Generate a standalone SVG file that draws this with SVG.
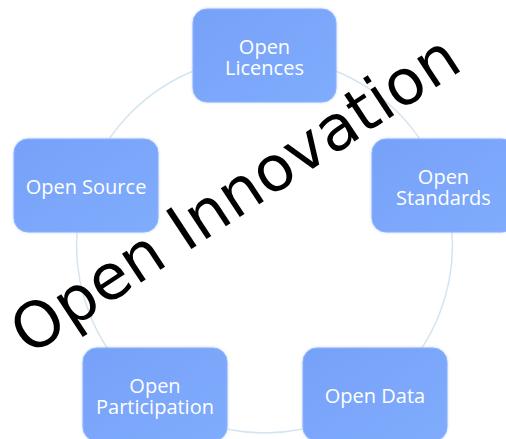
<svg xmlns="http://www.w3.org/2000/svg" width="506" height="439" viewBox="0 0 506 439">
  <defs>
    <linearGradient id="boxFill" x1="0" y1="0" x2="1" y2="1">
      <stop offset="0" stop-color="#76a1f8"/>
      <stop offset="1" stop-color="#80acfd"/>
    </linearGradient>
    <filter id="glow" x="-10%" y="-10%" width="120%" height="120%">
      <feGaussianBlur in="SourceAlpha" stdDeviation="1.5" result="b"/>
      <feFlood flood-color="#9dbcf5" flood-opacity="0.6"/>
      <feComposite in2="b" operator="in" result="s"/>
      <feMerge>
        <feMergeNode in="s"/>
        <feMergeNode in="SourceGraphic"/>
      </feMerge>
    </filter>
    <style>
      .box { fill: url(#boxFill); stroke: #8db1fb; stroke-width: 1; filter: url(#glow); }
      .lbl { fill: #ffffff; font-family: "Open Sans", "DejaVu Sans", sans-serif; font-size: 20px; text-anchor: middle; }
      .ring { fill: none; stroke: #d3e5f0; stroke-width: 1.5; }
      .title { fill: #000000; font-family: "DejaVu Sans", "Liberation Sans", sans-serif; font-size: 63px; }
    </style>
  </defs>
  <rect width="506" height="439" fill="#ffffff"/>

  <g id="connectors">
    <circle class="ring" cx="264.5" cy="245" r="188"/>
  </g>

  <g id="node-open-licences">
    <rect class="box" x="193" y="9" width="143" height="93" rx="14"/>
    <text class="lbl"><tspan x="264.5" y="53.5">Open</tspan><tspan x="264.5" y="74.5">Licences</tspan></text>
  </g>

  <g id="node-open-source">
    <rect class="box" x="14" y="139" width="144" height="93" rx="14"/>
    <text class="lbl" x="86" y="194">Open Source</text>
  </g>

  <g id="node-open-standards">
    <rect class="box" x="372" y="139" width="144" height="93" rx="14"/>
    <text class="lbl"><tspan x="443.5" y="183.5">Open</tspan><tspan x="443.5" y="204.5">Standards</tspan></text>
  </g>

  <g id="node-open-participation">
    <rect class="box" x="83" y="348" width="144" height="93" rx="14"/>
    <text class="lbl"><tspan x="155" y="392.5">Open</tspan><tspan x="155" y="413.5">Participation</tspan></text>
  </g>

  <g id="node-open-data">
    <rect class="box" x="303" y="348" width="144" height="93" rx="14"/>
    <text class="lbl" x="375" y="403">Open Data</text>
  </g>

  <g id="title">
    <text class="title" x="29.3" y="356.5" transform="rotate(-33.5 29.3 356.5)">Open Innovation</text>
  </g>
</svg>
